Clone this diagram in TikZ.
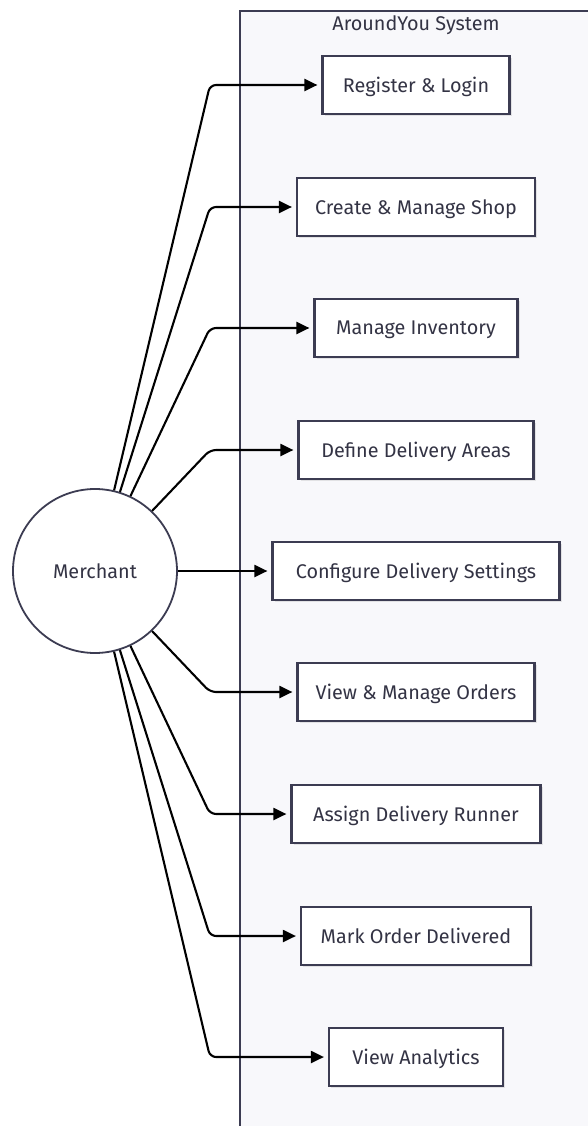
\documentclass[tikz,border=0pt]{standalone}
\usepackage{fontspec}
\setmainfont{Fira Sans}
\usetikzlibrary{arrows.meta,shadows}
\definecolor{frame}{HTML}{3C3C52}
\definecolor{ink}{HTML}{333344}
\definecolor{panel}{HTML}{F8F8FB}
\tikzset{
  label font/.style={font=\fontsize{19.8}{23}\selectfont},
  usecase/.style={draw=frame, line width=2.2pt, fill=white, minimum height=58pt,
    text=ink, label font, inner sep=0pt, text depth=0pt,
    drop shadow={opacity=0.18, shadow xshift=2pt, shadow yshift=-2pt}},
  actor/.style={circle, draw=frame, line width=1.8pt, fill=white, minimum size=164pt,
    text=ink, label font, inner sep=0pt},
  link/.style={draw=black, line width=2.1pt, rounded corners=6pt,
    -{Triangle[length=13pt,width=12pt]}, shorten >=4pt},
}
\begin{document}
\begin{tikzpicture}[x=1pt,y=-1pt]
\useasboundingbox (0,0) rectangle (588,1126);
\clip (0,0) rectangle (588,1126);
% system boundary
\draw[frame, line width=1.8pt, fill=panel] (240,11) rectangle (620,1160);
\node[text=ink, label font] (title) at (416,25) {AroundYou System};
% actor
\node[actor] (m) at (95,571) {Merchant};
% use cases
\node[usecase, minimum width=187pt] (u1) at (416,85) {Register \& Login};
\node[usecase, minimum width=238pt] (u2) at (416,207) {Create \& Manage Shop};
\node[usecase, minimum width=203pt] (u3) at (416,328) {Manage Inventory};
\node[usecase, minimum width=235pt] (u4) at (416,450) {Define Delivery Areas};
\node[usecase, minimum width=287pt] (u5) at (416,571) {Configure Delivery Settings};
\node[usecase, minimum width=237pt] (u6) at (416,692) {View \& Manage Orders};
\node[usecase, minimum width=249pt] (u7) at (416,814) {Assign Delivery Runner};
\node[usecase, minimum width=230pt] (u8) at (416,936) {Mark Order Delivered};
\node[usecase, minimum width=174pt] (u9) at (416,1057) {View Analytics};
% associations
\draw[link] (m) -- (210,85) -- (u1);
\draw[link] (m) -- (210,207) -- (u2);
\draw[link] (m) -- (210,328) -- (u3);
\draw[link] (m) -- (210,450) -- (u4);
\draw[link] (m) -- (u5);
\draw[link] (m) -- (210,692) -- (u6);
\draw[link] (m) -- (210,814) -- (u7);
\draw[link] (m) -- (210,936) -- (u8);
\draw[link] (m) -- (210,1057) -- (u9);
\end{tikzpicture}
\end{document}
